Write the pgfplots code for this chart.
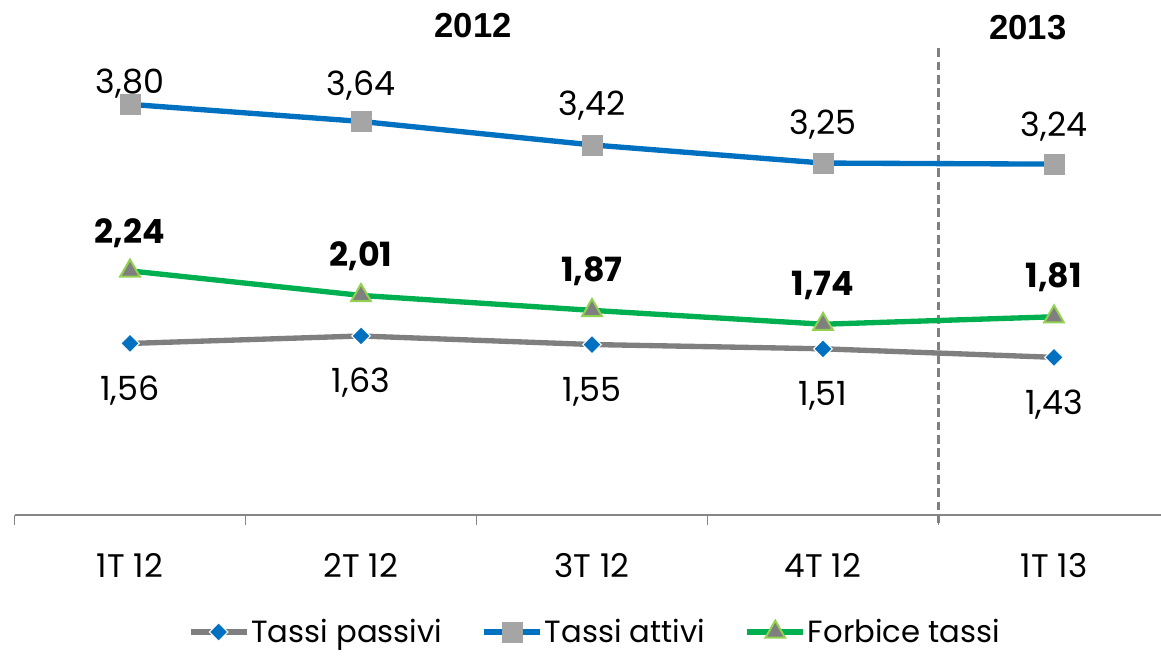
\documentclass[border=0pt]{standalone}
\usepackage{pgfplots}
\pgfplotsset{compat=1.18}
\usepackage{pgfplotstable}
\usepackage{fontspec}
\setmainfont{Poppins}
\newfontfamily\arialb{Liberation Sans}
\definecolor{cblue}{HTML}{0070C0}
\definecolor{cgrayline}{HTML}{7F7F7F}
\definecolor{cgraymark}{HTML}{A5A5A5}
\definecolor{cgreen}{HTML}{00B050}
\definecolor{clgreen}{HTML}{92D050}
\definecolor{cdash}{HTML}{808080}
\definecolor{caxis}{HTML}{868686}

\pgfplotstableread{
x y dy
0 1.56 -42.75
1 1.63 -42.75
2 1.55 -42.75
3 1.51 -42.75
4 1.43 -42.75
}\passivi
\pgfplotstableread{
x y dy
0 3.80 7.9
1 3.64 19.3
2 3.42 22.3
3 3.25 21.4
4 3.24 21.0
}\attivi
\pgfplotstableread{
x y dy
0 2.24 20.25
1 2.01 21.6
2 1.87 21.75
3 1.74 21.75
4 1.81 21.75
}\forbice

\begin{document}
\begin{tikzpicture}
\useasboundingbox (0,0) rectangle (870.75pt,492.75pt);
\clip (0,0) rectangle (870.75pt,492.75pt);
\begin{axis}[
  at={(10.875pt,106.5pt)}, anchor=south west,
  scale only axis, width=866.25pt, height=352.5pt,
  xmin=-0.5, xmax=4.5, ymin=-0.047, ymax=4.356,
  clip=false,
  axis x line=bottom, axis y line=none,
  x axis line style={-, draw=caxis, line width=1.1pt},
  xtick={0,1,2,3,4},
  xticklabels={1T 12,2T 12,3T 12,4T 12,1T 13},
  major tick length=0pt,
  minor xtick={-0.5,0.5,1.5,2.5,3.5},
  minor tick length=7.5pt,
  tick align=outside,
  minor tick style={draw=caxis, line width=1.1pt},
  xticklabel style={anchor=base, yshift=-47pt, font=\fontsize{24.5}{30}\selectfont},
  legend style={at={(0.5026,-0.249)}, anchor=center, draw=none, fill=none,
    legend columns=-1, font=\fontsize{23}{28}\selectfont,
    nodes={inner sep=1.5pt},
    /tikz/every even column/.append style={column sep=28pt}},
  legend image code/.code={\draw[mark repeat=2,mark phase=2,#1] plot coordinates {(0pt,0pt)(21pt,0pt)(42pt,0pt)};},
  point meta=y,
  nodes near coords={\pgfmathprintnumber[fixed,fixed zerofill,precision=2,use comma,assume math mode=true]{\pgfplotspointmeta}},
]
\draw[cdash, line width=2.6pt, dash pattern=on 6.5pt off 3.5pt] (axis cs:3.5,4.325) -- (axis cs:3.5,-0.125);

\addplot[cgrayline, line width=4pt, mark=square*, mark size=4.9pt,
  mark options={rotate=45, fill=cblue, draw=white, line width=0.8pt},
  visualization depends on={\thisrow{dy}\as\dy},
  every node near coord/.append style={anchor=base, yshift=\dy pt, text=black, font=\fontsize{25}{30}\selectfont}]
  table[x=x,y=y]{\passivi};
\addlegendentry{Tassi passivi}

\addplot[cblue, line width=4pt, mark=square*, mark size=7.5pt,
  mark options={fill=cgraymark, draw=cgraymark, line width=0.5pt},
  visualization depends on={\thisrow{dy}\as\dy},
  every node near coord/.append style={anchor=base, yshift=\dy pt, text=black, font=\fontsize{25}{30}\selectfont}]
  table[x=x,y=y]{\attivi};
\addlegendentry{Tassi attivi}

\addplot[cgreen, line width=4pt, mark=triangle*, mark size=8.5pt,
  mark options={fill=cgrayline, draw=clgreen, line width=1.5pt},
  visualization depends on={\thisrow{dy}\as\dy},
  every node near coord/.append style={anchor=base, yshift=\dy pt, text=black, font=\fontsize{25}{30}\selectfont\bfseries}]
  table[x=x,y=y]{\forbice};
\addlegendentry{Forbice tassi}

\node[font=\arialb\fontsize{26}{30}\selectfont\bfseries] at (axis cs:1.485,4.54) {2012};
\node[font=\arialb\fontsize{26}{30}\selectfont\bfseries] at (axis cs:3.887,4.517) {2013};
\end{axis}
\end{tikzpicture}
\end{document}
